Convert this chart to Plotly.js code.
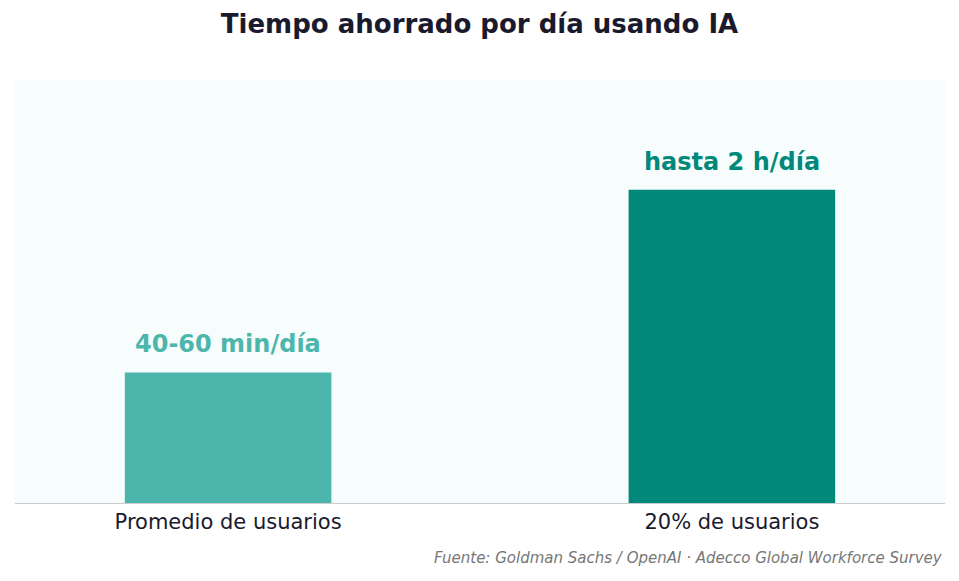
<!DOCTYPE html>
<html><head><meta charset="utf-8">
<script src="https://cdn.plot.ly/plotly-3.0.1.min.js"></script>
<style>body{margin:0}</style></head>
<body><div id="chart" style="width:959px;height:581px"></div>
<script>
var categories = ["Promedio de usuarios", "20% de usuarios"];
var minutesSaved = [50, 120];
var barLabels = ["40-60 min/día", "hasta 2 h/día"];
var barColors = ["#4db6ac", "#00897b"];

var trace = {
  x: categories, y: minutesSaved, type: "bar",
  marker: {color: barColors},
  width: 0.41,
  hoverinfo: "none"
};

var labelNotes = categories.map(function (c, i) {
  return {x: c, y: minutesSaved[i], xref: "x", yref: "y", text: "<b>" + barLabels[i] + "</b>",
    showarrow: false, yanchor: "bottom", yshift: 12,
    font: {family: "DejaVu Sans", size: 24, color: barColors[i]}};
});

var layout = {
  title: {text: "<b>Tiempo ahorrado por día usando IA</b>", x: 0.5, y: 0.975,
    font: {family: "DejaVu Sans", size: 26, color: "#1a1a2e"}},
  margin: {l: 15, r: 14, t: 80, b: 78},
  paper_bgcolor: "white", plot_bgcolor: "#f7fdfd",
  showlegend: false,
  xaxis: {tickfont: {family: "DejaVu Sans", size: 21, color: "#1a1a2e"},
    range: [-0.423, 1.423],
    showline: true, linecolor: "#cccccc", ticks: ""},
  yaxis: {visible: false, range: [0, 162], showgrid: false},
  annotations: labelNotes.concat([{text: "<i>Fuente: Goldman Sachs / OpenAI · Adecco Global Workforce Survey</i>",
    xref: "paper", yref: "paper", x: 1, y: -0.105, xanchor: "right", yanchor: "top",
    showarrow: false, font: {family: "DejaVu Sans", size: 15, color: "#777777"}}])
};
Plotly.newPlot("chart", [trace], layout, {displayModeBar: false});
</script></body></html>
